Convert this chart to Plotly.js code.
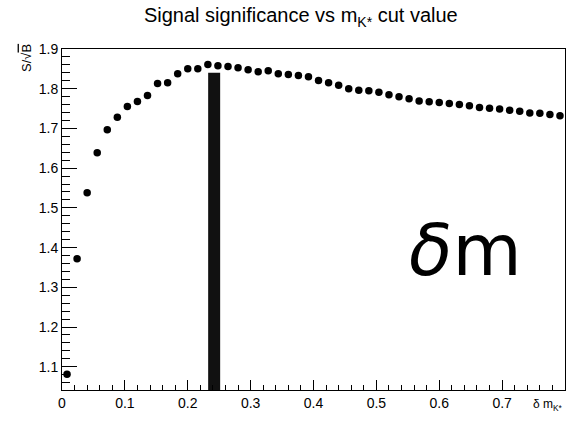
<!DOCTYPE html>
<html>
<head>
<meta charset="utf-8">
<script src="https://cdn.plot.ly/plotly-3.0.1.min.js"></script>
<style>html,body{margin:0;padding:0;background:#fff;}#chart{width:573px;height:421px;}</style>
</head>
<body>
<div id="chart"></div>
<script>
// Cut values (δ m_K*) and significance S/sqrt(B)
const cutValues = [0.008, 0.024, 0.040, 0.056, 0.072, 0.088, 0.104, 0.120, 0.136, 0.152,
                   0.168, 0.184, 0.200, 0.216, 0.232, 0.248, 0.264, 0.280, 0.296, 0.312,
                   0.328, 0.344, 0.360, 0.376, 0.392, 0.408, 0.424, 0.440, 0.456, 0.472,
                   0.488, 0.504, 0.520, 0.536, 0.552, 0.568, 0.584, 0.600, 0.616, 0.632,
                   0.648, 0.664, 0.680, 0.696, 0.712, 0.728, 0.744, 0.760, 0.776, 0.792];
const significance = [1.081, 1.372, 1.538, 1.639, 1.697, 1.728, 1.755, 1.768, 1.783, 1.813,
                      1.815, 1.838, 1.850, 1.850, 1.861, 1.858, 1.856, 1.853, 1.848, 1.843,
                      1.845, 1.838, 1.836, 1.833, 1.830, 1.821, 1.815, 1.809, 1.800, 1.796,
                      1.795, 1.791, 1.785, 1.780, 1.775, 1.769, 1.767, 1.765, 1.763, 1.760,
                      1.757, 1.753, 1.751, 1.749, 1.746, 1.743, 1.739, 1.738, 1.735, 1.732];
// Chosen cut (vertical band)
const chosenCutX = [0.242, 0.242];
const chosenCutY = [1.03, 1.840];

const xTickVals = [0, 0.1, 0.2, 0.3, 0.4, 0.5, 0.6, 0.7, 0.8];
const xTickText = ["0", "0.1", "0.2", "0.3", "0.4", "0.5", "0.6", "0.7", "0.8"];
const yTickVals = [1.1, 1.2, 1.3, 1.4, 1.5, 1.6, 1.7, 1.8, 1.9];
const yTickText = ["1.1", "1.2", "1.3", "1.4", "1.5", "1.6", "1.7", "1.8", "1.9"];

const FONT = "Liberation Sans, Arial, Helvetica, sans-serif";

const traces = [
  {
    x: chosenCutX, y: chosenCutY, type: "scatter", mode: "lines",
    line: {color: "#111", width: 12}, hoverinfo: "skip", showlegend: false
  },
  {
    x: cutValues, y: significance, type: "scatter", mode: "markers",
    marker: {color: "#000", size: 7.5}, showlegend: false
  }
];

const axisCommon = {
  showgrid: false, zeroline: false, showline: true, linecolor: "#000", linewidth: 1,
  mirror: true, ticks: "inside", tickcolor: "#000", tickwidth: 1,
  tickfont: {family: FONT, size: 14, color: "#000"}, tickmode: "array"
};

const layout = {
  width: 573, height: 421,
  margin: {l: 62, r: 8, t: 49, b: 31, pad: 0},
  paper_bgcolor: "#fff", plot_bgcolor: "#fff",
  font: {family: FONT, color: "#000"},
  title: {
    text: "Signal significance vs m<sub>K*</sub> cut value",
    font: {family: FONT, size: 20, color: "#000"},
    x: 0.525, xref: "container", xanchor: "center",
    y: 0.98, yref: "container", yanchor: "top"
  },
  xaxis: Object.assign({}, axisCommon, {
    range: [0, 0.8], tickvals: xTickVals, ticktext: xTickText, ticklen: 10,
    minor: {ticks: "inside", ticklen: 5, dtick: 0.02, tick0: 0, tickcolor: "#000", tickwidth: 1, showgrid: false}
  }),
  yaxis: Object.assign({}, axisCommon, {
    range: [1.0415, 1.9], tickvals: yTickVals, ticktext: yTickText, ticklen: 15,
    minor: {ticks: "inside", ticklen: 7.5, dtick: 0.02, tick0: 1.0, tickcolor: "#000", tickwidth: 1, showgrid: false}
  }),
  annotations: [
    {
      text: "S/\u221A<span style=\"text-decoration:overline\">B</span>",
      xref: "paper", yref: "paper", x: -0.072, y: 1.02,
      xanchor: "center", yanchor: "top", textangle: -90, showarrow: false,
      font: {family: FONT, size: 13, color: "#000"}
    },
    {
      text: "\u03B4 m<sub>K*</sub>",
      xref: "paper", yref: "paper", x: 1.0, y: -0.045,
      xanchor: "right", yanchor: "middle", showarrow: false,
      font: {family: FONT, size: 12, color: "#000"}
    },
    {
      text: "<i>\u03B4</i>m",
      xref: "paper", yref: "paper", x: 0.803, y: 0.41,
      xanchor: "center", yanchor: "middle", showarrow: false,
      font: {family: "DejaVu Sans, Noto Sans, sans-serif", size: 71, color: "#000"}
    }
  ]
};

Plotly.newPlot("chart", traces, layout, {staticPlot: true, displayModeBar: false});
</script>
</body>
</html>
